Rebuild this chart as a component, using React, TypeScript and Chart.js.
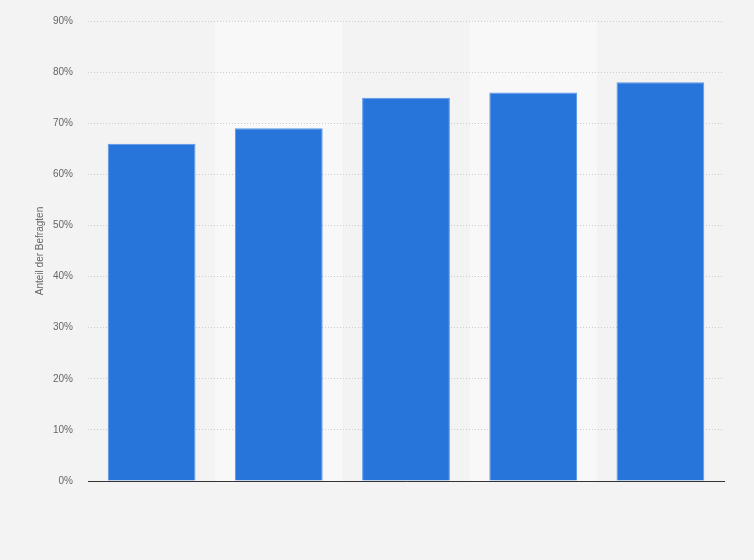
import { useRef, useEffect } from "react";
import Chart from "chart.js/auto";

const categories = ["", "", "", "", ""];
const shares = [66, 69, 75, 76, 78];
const yTicks = [0, 10, 20, 30, 40, 50, 60, 70, 80, 90];
const yTitle = "Anteil der Befragten";

const bandPlugin = {
  id: "bands",
  beforeDraw(chart: any) {
    const { ctx, chartArea, scales } = chart;
    const x = scales.x;
    ctx.save();
    ctx.fillStyle = "#f8f8f8";
    categories.forEach((_, i) => {
      if (i % 2 === 1) {
        const c = x.getPixelForValue(i);
        const half = (x.getPixelForValue(1) - x.getPixelForValue(0)) / 2;
        ctx.fillRect(c - half, chartArea.top, half * 2, chartArea.bottom - chartArea.top);
      }
    });
    ctx.restore();
  },
};

const App = () => {
  const chartRef = useRef<HTMLCanvasElement | null>(null);
  const chartInstance = useRef<Chart | null>(null);

  useEffect(() => {
    document.body.style.margin = "0";
    document.body.style.background = "#f3f3f3";
    if (!chartRef.current) return;
    if (chartInstance.current) chartInstance.current.destroy();

    chartInstance.current = new Chart(chartRef.current, {
      type: "bar",
      data: {
        labels: categories,
        datasets: [
          {
            data: shares,
            backgroundColor: "#2775db",
            borderColor: "#5a97e6",
            borderWidth: { top: 1, left: 1, right: 1, bottom: 0 },
            categoryPercentage: 1,
            barPercentage: 0.69,
          },
        ],
      },
      options: {
        responsive: false,
        animation: false,
        layout: { padding: { top: 20, right: 30, bottom: 71, left: 0 } },
        plugins: {
          legend: { display: false },
          tooltip: { enabled: false },
        },
        scales: {
          x: {
            grid: { display: false },
            ticks: { display: false },
            border: { display: true, color: "#333333", width: 1 },
          },
          y: {
            min: 0,
            max: 90,
            afterFit(scale: any) {
              scale.width = 88;
            },
            afterBuildTicks(scale: any) {
              scale.ticks = yTicks.map((v) => ({ value: v }));
            },
            ticks: {
              padding: 15,
              color: "#666666",
              font: { family: "Liberation Sans, Arial, sans-serif", size: 10 },
              callback: (v: any) => `${v}%`,
            },
            grid: {
              color: "#cccccc",
              drawTicks: false,
              lineWidth: 1,
            },
            border: { display: false, dash: [1, 2] },
            title: {
              display: true,
              text: yTitle,
              color: "#666666",
              padding: { top: 34, bottom: 0 },
              font: { family: "Liberation Sans, Arial, sans-serif", size: 10 },
            },
          },
        },
      },
      plugins: [bandPlugin],
    });

    return () => {
      if (chartInstance.current) {
        chartInstance.current.destroy();
        chartInstance.current = null;
      }
    };
  }, []);

  return (
    <div style={{ width: 754, height: 560, background: "#f3f3f3" }}>
      <canvas ref={chartRef} width={754} height={560} />
    </div>
  );
};

export default App;
